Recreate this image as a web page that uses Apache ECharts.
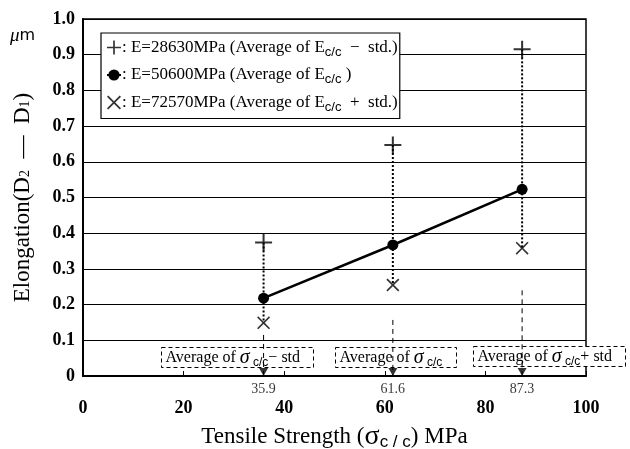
<!DOCTYPE html>
<html>
<head>
<meta charset="utf-8">
<script src="https://cdn.jsdelivr.net/npm/echarts@6/dist/echarts.min.js"></script>
<style>
  html, body { margin: 0; padding: 0; background: #fff; }
  #chart { width: 630px; height: 449px; }
</style>
</head>
<body>
<div id="chart"></div>
<script>
var strength = [35.9, 61.6, 87.3];
var eMean = [0.218, 0.367, 0.523];
var eLow = [0.374, 0.647, 0.915];
var eHigh = [0.149, 0.255, 0.358];
var guideTop = [0.115, 0.157, 0.24];
var strengthLabels = ['35.9', '61.6', '87.3'];

var serif = 'Liberation Serif';
var plusPath = 'path://M4.4,0h1.2v4.4h4.4v1.2h-4.4v4.4h-1.2v-4.4h-4.4v-1.2h4.4z';
var crossPath = 'path://M0.9,0L5,4.1L9.1,0L10,0.9L5.9,5L10,9.1L9.1,10L5,5.9L0.9,10L0,9.1L4.1,5L0,0.9z';

var legendText = {
  low: ': E=28630MPa (Average of E{s|c/c}  \u2212  std.)',
  mean: ': E=50600MPa (Average of E{s|c/c} )',
  high: ': E=72570MPa (Average of E{s|c/c}  +  std.)'
};

var series = [];
strength.forEach(function (x, i) {
  series.push({
    type: 'line', silent: true, symbol: 'none', z: 1,
    data: [[x, eLow[i]], [x, eHigh[i]]],
    lineStyle: { color: '#000', width: 2, type: [2, 2] }
  });
  series.push({
    type: 'line', silent: true, symbol: 'none', z: 1,
    data: [[x, guideTop[i]], [x, 0]],
    lineStyle: { color: '#000', width: 1, type: [5, 4] }
  });
});
series.push({
  name: 'mean', type: 'line', z: 5,
  data: strength.map(function (x, i) { return [x, eMean[i]]; }),
  symbol: 'circle', symbolSize: 11,
  itemStyle: { color: '#000' },
  lineStyle: { color: '#000', width: 2.5 }
});
series.push({
  name: 'low', type: 'scatter', z: 5,
  data: strength.map(function (x, i) { return [x, eLow[i]]; }),
  symbol: plusPath, symbolSize: 17,
  itemStyle: { color: '#000' }
});
series.push({
  name: 'high', type: 'scatter', z: 5,
  data: strength.map(function (x, i) { return [x, eHigh[i]]; }),
  symbol: crossPath, symbolSize: 13,
  itemStyle: { color: '#000' }
});
series.push({
  type: 'scatter', z: 6, silent: true,
  data: strength.map(function (x, i) { return [x, 0, strengthLabels[i]]; }),
  symbol: 'triangle', symbolRotate: 180, symbolSize: [9, 8], symbolOffset: [0, -4],
  itemStyle: { color: '#000' },
  label: {
    show: true, position: 'bottom', distance: 6,
    formatter: function (p) { return p.value[2]; },
    fontFamily: serif, fontSize: 14, color: '#000', textBorderWidth: 0
  }
});

function avgBox(x, y, w, tail) {
  return {
    type: 'group', left: x, top: y, z: 100,
    children: [
      { type: 'rect', shape: { x: 0, y: 0, width: w, height: 20 },
        style: { fill: '#fff', stroke: '#000', lineWidth: 1, lineDash: [4, 3] } },
      { type: 'text', x: 4, y: 10,
        style: {
          text: 'Average of {g|\u03c3}{s| c/c}' + tail,
          fontFamily: serif, fontSize: 16, fill: '#000', verticalAlign: 'middle',
          rich: {
            g: { fontFamily: serif, fontSize: 20, fontStyle: 'italic', verticalAlign: 'middle' },
            s: { fontFamily: 'Liberation Sans', fontSize: 12, padding: [10, 0, 0, 0] }
          }
        } }
    ]
  };
}

var chart = echarts.init(document.getElementById('chart'));
chart.setOption({
  animation: false,
  textStyle: { fontFamily: serif, color: '#000' },
  grid: {
    left: 83, right: 44, top: 19, bottom: 73,
    outerBoundsMode: 'none', containLabel: false,
    show: true, borderColor: '#000', borderWidth: 1.5
  },
  legend: {
    orient: 'vertical', left: 101, top: 33,
    data: ['low', 'mean', 'high'],
    backgroundColor: '#fff', borderColor: '#000', borderWidth: 1.2,
    padding: [6, 2, 5, 5], itemGap: 8, itemWidth: 14, itemHeight: 14,
    z: 20,
    formatter: function (name) { return legendText[name]; },
    textStyle: {
      fontFamily: serif, fontSize: 17, color: '#000', padding: [0, 0, 0, -4],
      rich: { s: { fontFamily: 'Liberation Sans', fontSize: 13, padding: [9, 0, 0, 0] } }
    }
  },
  xAxis: {
    type: 'value', min: 0, max: 100, interval: 20,
    name: 'Tensile Strength ({g|\u03c3}{s|c / c}) MPa',
    nameLocation: 'middle', nameGap: 47,
    nameTextStyle: {
      fontFamily: serif, fontSize: 23, color: '#000',
      rich: {
        g: { fontFamily: serif, fontSize: 28 },
        s: { fontFamily: 'Liberation Sans', fontSize: 17, padding: [10, 0, 0, 0] }
      }
    },
    axisLine: { lineStyle: { color: '#000', width: 2 } },
    axisTick: { inside: true, length: 5, lineStyle: { color: '#000' } },
    axisLabel: { margin: 23, fontFamily: serif, fontSize: 18, fontWeight: 'bold', color: '#000' },
    splitLine: { show: false }
  },
  yAxis: {
    type: 'value', min: 0, max: 1, interval: 0.1,
    name: 'Elongation(D{s|2}  \u2014  D{s|1})',
    nameLocation: 'middle', nameGap: 49, nameRotate: 90,
    nameTextStyle: {
      fontFamily: serif, fontSize: 23, color: '#000',
      rich: { s: { fontFamily: serif, fontSize: 14, padding: [6, 0, 0, 0] } }
    },
    axisLine: { lineStyle: { color: '#000', width: 2 } },
    axisTick: { inside: true, length: 5, lineStyle: { color: '#000' } },
    axisLabel: {
      margin: 8, fontFamily: serif, fontSize: 18, fontWeight: 'bold', color: '#000',
      formatter: function (v) { return v === 0 ? '0' : v.toFixed(1); }
    },
    splitLine: { lineStyle: { color: '#000', width: 1.2 } }
  },
  graphic: [
    { type: 'text', left: 10, top: 26, z: 100,
      style: {
        text: '{i|\u03bc}m', fontFamily: 'DejaVu Sans', fontSize: 16, fill: '#000',
        rich: { i: { fontFamily: serif, fontStyle: 'italic', fontSize: 19 } }
      } },
    avgBox(161, 347, 152, '\u2212 std'),
    avgBox(335, 347, 121, ''),
    avgBox(473, 346, 152, '+ std')
  ],
  series: series
});
</script>
</body>
</html>
